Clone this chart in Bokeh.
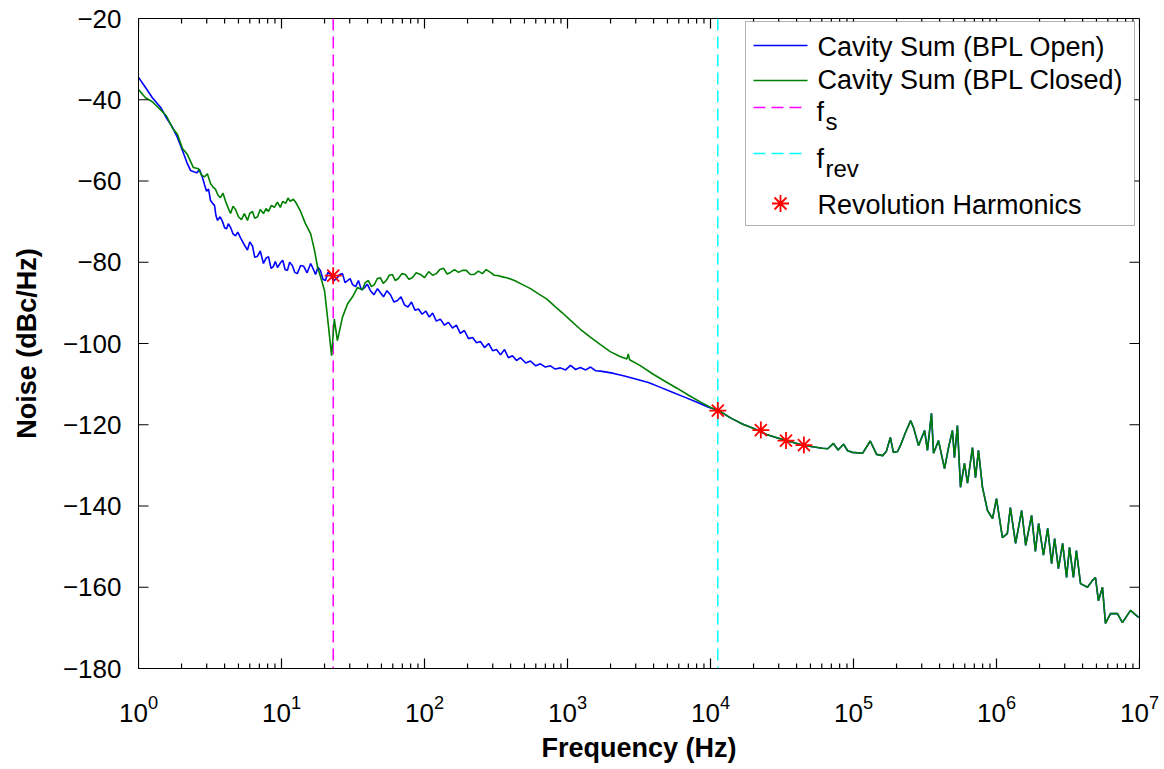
from bokeh.plotting import figure
from bokeh.models import (Range1d, LogTicker, SingleIntervalTicker,
                          CustomJSTickFormatter, Span, BoxAnnotation, Label, ColumnDataSource)
from bokeh.embed import file_html
from bokeh.resources import INLINE

# ---------------- data ----------------
open_freq = [1.00, 1.12, 1.25, 1.43, 1.57, 1.73, 1.87, 2.03, 2.20, 2.31, 2.55, 2.67, 2.80, 2.90,
             2.99, 3.09, 3.19, 3.30, 3.40, 3.48, 3.57, 3.72, 3.87, 4.00, 4.12, 4.25, 4.40, 4.58,
             4.77, 4.95, 5.17, 5.45, 5.78, 6.00, 6.27, 6.50, 6.80, 7.10, 7.48, 7.80, 8.11, 8.45,
             8.79, 9.05, 9.38, 9.80, 10.2, 10.6, 11.0, 11.4, 11.9, 12.4, 12.9, 13.6, 14.3, 15.1,
             16.0, 16.6, 17.3, 18.0, 18.7, 19.5, 20.3, 21.1, 22.0, 23.1, 24.3, 25.5, 26.7, 27.8,
             29.0, 30.2, 31.4, 33.0, 34.5, 36.2, 38.0, 39.8, 41.9, 44.3, 46.9, 49.2, 51.7, 54.6,
             57.8, 61.2, 64.7, 68.5, 72.4, 76.6, 81.1, 85.8, 90.8, 96.3, 102, 108, 114, 121, 129,
             138, 147, 157, 167, 178, 190, 203, 217, 231, 246, 263, 281, 300, 319, 340, 363, 386,
             412, 440, 469, 510, 551, 600, 647, 700, 760, 820, 893, 970, 1050, 1140, 1230, 1340,
             1450, 1570, 1700, 2070, 2500, 3040, 3680, 4470, 5420, 6580, 7980, 9680, 11400]
open_db = [-34.5, -37.0, -39.5, -41.9, -44.5, -46.8, -49.3, -52.5, -55.8, -57.4, -58.0, -57.2,
           -59.1, -61.0, -62.5, -62.0, -64.8, -65.5, -66.0, -68.5, -69.7, -68.8, -70.0, -71.5,
           -71.8, -70.5, -71.4, -73.0, -73.5, -72.6, -74.0, -75.5, -77.0, -75.0, -76.0, -78.8,
           -78.5, -77.2, -80.3, -79.0, -78.6, -81.5, -81.0, -79.8, -81.3, -80.2, -79.5, -81.8,
           -82.0, -80.0, -80.8, -82.5, -82.8, -80.8, -81.0, -82.6, -80.3, -81.5, -83.0, -81.2,
           -82.0, -84.2, -84.5, -82.5, -83.0, -84.6, -84.0, -83.0, -82.8, -85.0, -84.5, -84.0,
           -85.5, -86.0, -84.5, -86.8, -86.3, -85.4, -87.0, -88.0, -86.5, -87.5, -88.5, -87.0,
           -88.0, -89.8, -89.4, -88.5, -90.5, -91.0, -89.8, -91.8, -91.5, -92.8, -92.0, -93.5,
           -92.5, -94.5, -94.0, -95.5, -94.8, -96.2, -95.5, -97.5, -96.8, -98.8, -98.5, -99.8,
           -99.5, -101.0, -100.0, -101.8, -101.5, -102.8, -101.5, -103.5, -103.0, -104.2, -103.5,
           -104.8, -104.3, -105.5, -105.0, -105.8, -105.5, -106.3, -106.0, -106.5, -105.4, -106.4,
           -105.9, -106.5, -105.8, -106.7, -106.8, -107.3, -108.0, -108.8, -109.6, -110.8, -112.0,
           -113.2, -114.4, -115.7, -116.5]

closed_freq = [1.00, 1.12, 1.25, 1.43, 1.57, 1.73, 1.87, 2.03, 2.20, 2.42, 2.63, 2.75, 2.89, 3.03,
               3.19, 3.32, 3.45, 3.60, 3.74, 3.90, 4.06, 4.22, 4.40, 4.58, 4.77, 5.00, 5.25, 5.50,
               5.78, 6.00, 6.27, 6.50, 6.80, 7.10, 7.48, 7.80, 8.11, 8.50, 8.92, 9.35, 9.82, 10.2,
               10.7, 11.1, 11.5, 12.1, 12.7, 13.6, 14.7, 16.0, 17.0, 17.9, 19.1, 20.0, 20.9, 22.4,
               23.4, 24.6, 26.7, 29.0, 31.4, 34.0, 36.8, 38.5, 40.5, 42.5, 44.6, 46.8, 49.1, 51.5,
               54.0, 56.7, 59.5, 62.5, 65.6, 69.5, 73.5, 77.8, 82.2, 87.5, 93.7, 100, 107, 114, 121,
               128, 136, 144, 152, 162, 173, 184, 196, 209, 223, 238, 254, 270, 289, 308, 329, 350,
               375, 426, 485, 551, 627, 714, 812, 924, 1050, 1230, 1450, 1700, 1990, 2330, 2600,
               2660, 2720, 3250, 3950, 4800, 5830, 7080, 8600, 10100, 11400]
closed_db = [-37.5, -39.5, -40.5, -42.5, -44.0, -47.0, -48.5, -52.0, -53.5, -56.7, -57.0, -58.5,
             -59.0, -58.2, -60.6, -61.5, -62.0, -63.5, -64.1, -63.0, -65.0, -66.5, -68.0, -66.2,
             -67.0, -68.8, -69.5, -68.0, -69.7, -68.0, -67.5, -69.2, -68.8, -67.0, -68.0, -66.8,
             -67.5, -66.0, -66.5, -65.2, -66.5, -65.0, -65.5, -64.2, -65.0, -64.5, -65.5, -67.5,
             -70.5, -73.0, -77.0, -81.3, -84.5, -87.0, -93.0, -103.0, -94.0, -99.3, -93.5, -90.2,
             -88.5, -86.2, -86.8, -85.0, -84.5, -86.0, -85.5, -84.0, -83.8, -85.2, -84.5, -83.2,
             -83.0, -84.5, -84.0, -82.8, -83.0, -84.2, -83.8, -82.6, -83.0, -83.8, -82.3, -83.2,
             -82.8, -81.8, -81.5, -82.9, -82.5, -81.8, -82.5, -82.0, -82.0, -83.0, -83.0, -82.2,
             -82.8, -81.8, -82.5, -83.2, -83.3, -83.6, -83.8, -84.5, -85.5, -86.5, -87.8, -89.0,
             -90.8, -92.5, -94.3, -96.5, -98.5, -100.3, -102.0, -103.2, -103.8, -102.6, -104.0,
             -105.5, -107.5, -109.3, -111.0, -112.8, -114.5, -115.8, -116.5]

# above f_rev both measurements coincide
tail_freq = [13800, 16700, 20300, 24600, 29900, 36300, 44000, 51700, 60700, 66000, 72400, 78000,
             85200, 91000, 98400, 116000, 131000, 145000, 160000, 170000, 181000, 190000, 203000,
             213000, 231000, 251000, 263000, 285000, 314000, 329000, 351000, 363000, 393000,
             433000, 462000, 492000, 508000, 533000, 560000, 597000, 627000, 679000, 713000,
             748000, 798000, 865000, 938000, 1000000, 1100000, 1190000, 1250000, 1360000,
             1500000, 1600000, 1760000, 1870000, 1970000, 2130000, 2280000, 2430000, 2550000,
             2710000, 2900000, 3090000, 3240000, 3450000, 3620000, 3870000, 4330000, 4690000,
             4920000, 5160000, 5510000, 5780000, 6270000, 7010000, 7600000, 8650000, 9850000]
tail_db = [-118.3, -119.8, -121.0, -122.4, -123.3, -124.2, -125.0, -125.4, -125.8, -125.9, -124.6,
           -126.2, -124.8, -126.4, -126.8, -127.0, -124.0, -127.3, -127.6, -126.5, -123.1, -126.8,
           -126.6, -125.1, -121.9, -119.0, -120.7, -125.1, -121.4, -126.3, -117.2, -127.0, -123.9,
           -130.8, -125.6, -121.4, -128.1, -120.2, -135.4, -129.5, -134.4, -125.6, -133.0, -126.3,
           -135.4, -141.1, -143.1, -138.2, -147.8, -146.8, -140.4, -149.2, -141.1, -149.7, -142.3,
           -151.2, -144.3, -152.1, -145.5, -154.2, -148.0, -155.4, -149.2, -157.6, -150.2, -157.6,
           -151.0, -159.1, -160.0, -158.3, -157.6, -163.3, -160.0, -168.9, -166.5, -166.5, -168.7,
           -165.7, -167.4]

f_s = 23.0
f_rev = 11245.0
harm_freq = [23.0, 11245.0, 22490.0, 33735.0, 44980.0]
harm_db = [-83.3, -116.5, -121.3, -123.9, -125.0]

labels = ["Cavity Sum (BPL Open)", "Cavity Sum (BPL Closed)", "f", "f", "Revolution Harmonics"]
subs = ["s", "rev"]

# axis tick positions
x_major = [10 ** k for k in range(8)]
x_minor = [m * 10 ** k for k in range(7) for m in range(2, 10)]
y_major = list(range(-180, -19, 20))

FONT = "Liberation Sans"
BLUE = "#0000ff"
GREEN = "#008000"
MAGENTA = "#ff00ff"
CYAN = "#00ffff"
RED = "#ff0000"

# ---------------- figure ----------------
p = figure(width=1164, height=769, x_axis_type="log",
           x_range=Range1d(1, 1e7), y_range=Range1d(-180, -20),
           output_backend="svg", toolbar_location=None,
           min_border_left=138, min_border_right=25, min_border_top=18, min_border_bottom=101)
p.xgrid.visible = False
p.ygrid.visible = False
p.outline_line_color = "black"
p.outline_line_width = 1
p.background_fill_color = "white"
p.border_fill_color = "white"

for ax in (p.xaxis[0], p.yaxis[0]):
    ax.major_tick_in = 0
    ax.major_tick_out = 0
    ax.minor_tick_in = 0
    ax.minor_tick_out = 0
    ax.axis_line_color = "black"
    ax.major_label_text_font = FONT
    ax.major_label_text_color = "black"
    ax.axis_label_text_font = FONT
    ax.axis_label_text_font_size = "27px"
    ax.axis_label_text_font_style = "bold"
    ax.axis_label_text_color = "black"

p.yaxis[0].ticker = SingleIntervalTicker(interval=20, num_minor_ticks=0)
p.yaxis[0].formatter = CustomJSTickFormatter(code="return tick < 0 ? '\u2212' + Math.abs(tick) : '' + tick;")
p.yaxis[0].major_label_text_font_size = "26px"
p.yaxis[0].axis_label = "Noise (dBc/Hz)"
p.yaxis[0].major_label_standoff = 17
p.yaxis[0].axis_label_standoff = 18

p.xaxis[0].ticker = LogTicker(num_minor_ticks=10)
p.xaxis[0].major_label_text_font_size = "26px"
p.xaxis[0].axis_label = "Frequency (Hz)"
p.xaxis[0].major_label_standoff = 26
p.xaxis[0].axis_label_standoff = 8

# vertical markers
p.add_layout(Span(location=f_s, dimension="height", line_color=MAGENTA, line_width=1.5,
                  line_dash="12 6", level="underlay"))
p.add_layout(Span(location=f_rev, dimension="height", line_color=CYAN, line_width=1.5,
                  line_dash="12 6", level="underlay"))

# curves
blue_src = ColumnDataSource(dict(f=open_freq + tail_freq, db=open_db + tail_db))
green_src = ColumnDataSource(dict(f=closed_freq + tail_freq, db=closed_db + tail_db))
p.line("f", "db", source=blue_src, line_color=BLUE, line_width=1.6)
p.line("f", "db", source=green_src, line_color=GREEN, line_width=1.6)
p.scatter(harm_freq, harm_db, marker="asterisk", size=17, line_color=RED, line_width=1.8)

# ---------------- inward tick marks on all four sides ----------------
# reference frame: 1001 px for 7 decades, 650 px for 160 dB
dec_per_px = 7 / 1001.0
db_per_px = 160 / 650.0
maj, mnr = 10, 5
nx, nm, ny = len(x_major), len(x_minor), len(y_major)
tick_src = ColumnDataSource(dict(
    x0=x_major + x_major + x_minor + x_minor + [1] * ny + [1e7] * ny,
    y0=[-180] * nx + [-20] * nx + [-180] * nm + [-20] * nm + y_major + y_major,
    x1=x_major + x_major + x_minor + x_minor
       + [10 ** (maj * dec_per_px)] * ny + [10 ** (7 - maj * dec_per_px)] * ny,
    y1=[-180 + maj * db_per_px] * nx + [-20 - maj * db_per_px] * nx
       + [-180 + mnr * db_per_px] * nm + [-20 - mnr * db_per_px] * nm + y_major + y_major,
))
p.segment(x0="x0", y0="y0", x1="x1", y1="y1", source=tick_src, line_color="black",
          line_width=1.2)

# ---------------- manual legend (positions in reference pixels) ----------------
def fx(px):
    return 10 ** ((px - 138) * dec_per_px)

def fy(py):
    return -20 - (py - 18) * db_per_px

p.add_layout(BoxAnnotation(left=fx(745), right=fx(1134), top=fy(21), bottom=fy(225),
                           fill_color="white", fill_alpha=1.0, line_color="black", line_width=1,
                           level="annotation"))
seg_x = [fx(753), fx(807)]
p.line(seg_x, [fy(45), fy(45)], line_color=BLUE, line_width=1.6, level="overlay")
p.line(seg_x, [fy(80), fy(80)], line_color=GREEN, line_width=1.6, level="overlay")
p.line(seg_x, [fy(107), fy(107)], line_color=MAGENTA, line_width=1.5, line_dash="12 6",
       level="overlay")
p.line(seg_x, [fy(153), fy(153)], line_color=CYAN, line_width=1.5, line_dash="12 6",
       level="overlay")
p.scatter([fx(780)], [fy(203)], marker="asterisk", size=17, line_color=RED,
          line_width=1.8, level="overlay")

def lab(text, px, py, size="27px"):
    p.add_layout(Label(x=fx(px), y=fy(py), text=text, text_font=FONT, text_font_size=size,
                       text_color="black", text_baseline="alphabetic", level="overlay"))

lab(labels[0], 817, 46)
lab(labels[1], 817, 79)
lab(labels[2], 816, 111)
lab(subs[0], 825, 121, size="24px")
lab(labels[3], 816, 158)
lab(subs[1], 825, 168, size="24px")
lab(labels[4], 817, 204)

open("out.html", "w").write(file_html(p, INLINE))
